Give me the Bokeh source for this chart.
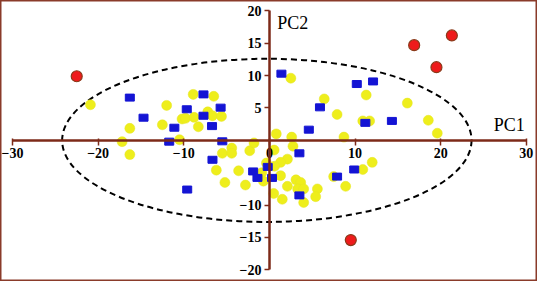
from bokeh.plotting import figure
from bokeh.models import Range1d, LinearAxis, FixedTicker, Label
from bokeh.embed import file_html
from bokeh.resources import INLINE

# ---- data ----
red_x = [-22.5, 16.9, 21.3, 19.5, 9.5]
red_y = [9.9, 14.7, 16.2, 11.3, -15.4]

blue_x = [-16.3, -14.7, -11.1, -7.7, -9.65, -7.7, -5.7, -6.7, -11.7, -5.5, -6.65, -1.9, -1.4,
          -9.6, -0.2, 3.5, 0.3, 3.5, 7.9, 9.9, 1.4, 10.2, 12.1, 5.9, 11.2, 14.3, 4.6]
blue_y = [6.6, 3.5, 1.95, 7.1, 4.8, 3.8, 5.05, 2.2, -0.2, -0.15, -3.0, -4.8, -5.8,
          -7.6, -4.1, -2.0, -5.8, -8.5, -5.6, -4.5, 10.3, 8.7, 9.1, 5.1, 2.7, 3.0, 1.65]

yellow_x = [-20.9, -16.3, -17.2, -16.3, -12.0, -12.5, -10.2, -9.8, -8.9, -8.8, -7.2, -6.5, -6.65, -5.6,
            -8.3, -10.5,
            -5.5, -4.4, -4.4, -2.3, -1.8, -6.2, -3.6, -5.2, -2.8, -0.7, -0.35, -0.9,
            0.55, 2.75, 2.1, 1.3, 0.6, 1.3, 3.1, 3.65, 2.1, 3.3, 4.0, 5.6, 5.4, 0.5, 1.5, 4.0,
            7.5, 8.9, 10.9, 12.0,
            2.5, 11.3, 6.4, 7.9, 10.9, 11.7, 16.1, 18.55, 19.6, 0.8, 2.6, 8.7]
yellow_y = [5.5, 1.85, -0.2, -2.2, 5.4, 2.4, 3.3, 3.4, 7.1, 3.55, 4.4, 6.8, 3.8, 3.7,
            2.1, 0.1,
            -2.0, -1.2, -2.0, -1.6, -0.4, -4.6, -4.7, -6.5, -6.9, -6.3, -3.5, -5.0,
            -1.5, -0.9, -2.9, -3.4, -4.0, -5.45, -6.1, -6.5, -7.1, -7.5, -7.5, -7.5, -8.7, -8.2, -9.1, -9.6,
            -5.6, -7.1, -4.5, -3.4,
            9.6, 7.0, 6.4, 4.0, 3.0, 3.0, 5.75, 3.1, 1.1, 1.0, 0.5, 0.5]

ellipse_center = (-0.3, 0.0)
ellipse_size = (47.8, 25.2)

x_ticks = [-30, -20, -10, 0, 10, 20, 30]
y_ticks = [-20, -15, -10, 5, 10, 15, 20]

AXIS = "#7d2a18"

p = figure(width=537, height=281, output_backend="svg", toolbar_location=None,
           x_range=Range1d(-31.4, 31.3), y_range=Range1d(-21.8, 21.6),
           x_axis_type=None, y_axis_type=None, min_border=0)
p.background_fill_color = "white"
p.border_fill_color = "white"
p.outline_line_color = "#8a3b2a"
p.outline_line_width = 2
p.xgrid.visible = False
p.ygrid.visible = False

p.ellipse(x=[ellipse_center[0]], y=[ellipse_center[1]], width=[ellipse_size[0]], height=[ellipse_size[1]],
          fill_alpha=0, line_color="black", line_width=2, line_dash="6 4")

p.scatter(yellow_x, yellow_y, size=10, marker="circle", fill_color="#eeee1c", line_color="#e4e424", line_width=0.5)
p.rect(blue_x, blue_y, width=9, height=7, width_units="screen", height_units="screen",
       fill_color="#1414d4", line_color="#1414d4")
p.scatter(red_x, red_y, size=11, marker="circle", fill_color="#ee1b1b", line_color="#8a3a1a", line_width=1.2)

font = "Liberation Serif"

def style(ax, tick_in):
    ax.axis_line_color = AXIS
    ax.axis_line_width = 2.5
    ax.major_tick_line_color = AXIS
    ax.major_tick_line_width = 1.5
    ax.major_tick_out = 5
    ax.major_tick_in = tick_in
    ax.minor_tick_line_color = None
    ax.major_label_text_font = font
    ax.major_label_text_font_style = "bold"
    ax.major_label_text_font_size = "14px"
    ax.major_label_text_color = "black"
    ax.major_label_standoff = 3

xa = LinearAxis(fixed_location=0, ticker=FixedTicker(ticks=x_ticks), bounds=(-30, 30))
style(xa, 2)
xa.major_label_overrides = {t: str(t).replace("-", "\u2212") for t in x_ticks}
p.add_layout(xa, "below")

ya = LinearAxis(fixed_location=0, ticker=FixedTicker(ticks=y_ticks), bounds=(-20, 20))
style(ya, 0)
ya.major_label_overrides = {t: str(t).replace("-", "\u2212") for t in y_ticks}
p.add_layout(ya, "left")

p.add_layout(Label(x=29.8, y=0.9, text="PC1", text_align="right", text_baseline="bottom",
                   text_font=font, text_font_size="18px", text_color="black"))
p.add_layout(Label(x=0.9, y=16.6, text="PC2", text_align="left", text_baseline="bottom",
                   text_font=font, text_font_size="18px", text_color="black"))

open("out.html", "w").write(file_html(p, INLINE))
